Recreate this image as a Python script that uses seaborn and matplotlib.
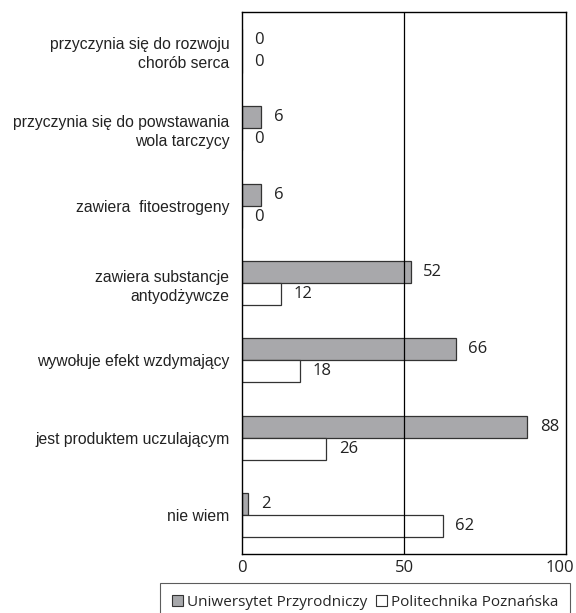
import pandas as pd
import numpy as np
import matplotlib.pyplot as plt
import seaborn as sns
from matplotlib.ticker import FixedLocator
from matplotlib.transforms import ScaledTranslation

# data
categories = [
    "przyczynia się do rozwoju\nchorób serca",
    "przyczynia się do powstawania\nwola tarczycy",
    "zawiera  fitoestrogeny",
    "zawiera substancje\nantyodżywcze",
    "wywołuje efekt wzdymający",
    "jest produktem uczulającym",
    "nie wiem",
]
uniwersytet = [0, 6, 6, 52, 66, 88, 2]
politechnika = [0, 0, 0, 12, 18, 26, 62]
series_names = ["Uniwersytet Przyrodniczy", "Politechnika Poznańska"]

df = pd.DataFrame({
    "kategoria": categories * 2,
    "wartosc": uniwersytet + politechnika,
    "uczelnia": [series_names[0]] * len(categories) + [series_names[1]] * len(categories),
})

sns.set_style("white")
plt.rcParams["font.family"] = ["Liberation Sans", "DejaVu Sans"]

fig = plt.figure(figsize=(5.76, 6.13), dpi=100)
ax = fig.add_axes([0.420, 0.0963, 0.563, 0.884])

sns.barplot(data=df, y="kategoria", x="wartosc", hue="uczelnia", orient="h",
            palette=["#a7a8ab", "white"], width=0.57, edgecolor="#333333",
            linewidth=0.9, errorbar=None, legend=False, ax=ax)

for cont in ax.containers:
    ax.bar_label(cont, padding=9, fontsize=12, family="Open Sans", color="#222222")

ax.set_xlim(0, 100)
ax.set_ylim(len(categories) - 0.5, -0.5)
ax.set_xticks([0, 50, 100])
ax.tick_params(axis="x", labelsize=12, length=0, pad=4)
xl = ax.get_xticklabels()
for t in xl:
    t.set_family("Open Sans")
    t.set_color("#222222")
xl[-1].set_transform(xl[-1].get_transform() + ScaledTranslation(-6 / 100, 0, fig.dpi_scale_trans))
ax.axvline(50, color="black", lw=0.9)
ax.set_xlabel("")
ax.set_ylabel("")
ax.tick_params(axis="y", which="major", length=0, labelsize=11.3, pad=9)
for t in ax.get_yticklabels():
    t.set_linespacing(1.35)
    t.set_color("#222222")
ax.yaxis.set_minor_locator(FixedLocator(np.arange(-0.5, len(categories), 1.0)))
ax.tick_params(axis="y", which="minor", length=4, width=0.8, direction="out", color="black")
for s in ax.spines.values():
    s.set_color("black")
    s.set_linewidth(1.0)

handles = [plt.Rectangle((0, 0), 1, 1, fc="#a7a8ab", ec="#333333", lw=0.8),
           plt.Rectangle((0, 0), 1, 1, fc="white", ec="#333333", lw=0.8)]
leg = fig.legend(handles, series_names, loc="upper center", bbox_to_anchor=(0.634, 0.049),
                 ncol=2, frameon=True, fancybox=False, edgecolor="#333333",
                 handlelength=0.7, handleheight=0.7, handletextpad=0.25,
                 columnspacing=0.6, borderpad=0.8, borderaxespad=0,
                 prop={"family": "Open Sans", "size": 11})
leg.get_frame().set_linewidth(0.8)

fig.savefig("out.png", dpi=100)
